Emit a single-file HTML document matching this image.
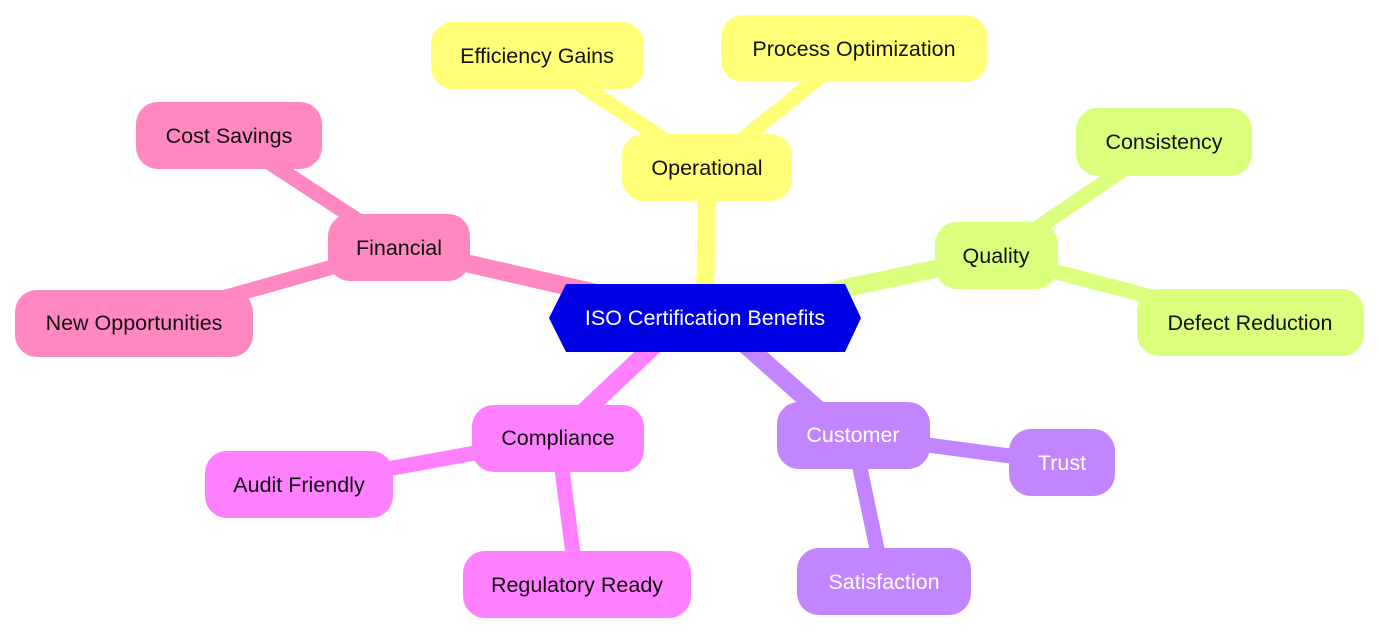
<!DOCTYPE html>
<html><head><meta charset="utf-8"><style>
html,body{margin:0;padding:0;background:#fff;}
svg{display:block;}
text{font-family:"Liberation Sans",sans-serif;font-size:21.5px;text-anchor:middle;dominant-baseline:central;}
</style></head><body>
<svg width="1379" height="634" viewBox="0 0 1379 634" xmlns="http://www.w3.org/2000/svg">
<g stroke-linecap="butt" fill="none">
<line x1="705" y1="300" x2="707" y2="190" stroke="#ffff78" stroke-width="18"/>
<line x1="705" y1="318" x2="400" y2="248" stroke="#ff88c0" stroke-width="18"/>
<line x1="705" y1="318" x2="996" y2="256" stroke="#d9ff7d" stroke-width="18"/>
<line x1="660" y1="340" x2="570" y2="425" stroke="#ff80ff" stroke-width="18"/>
<line x1="740" y1="340" x2="830" y2="420" stroke="#c384ff" stroke-width="18"/>
<line x1="707" y1="168" x2="537" y2="56" stroke="#ffff78" stroke-width="15"/>
<line x1="707" y1="168" x2="854" y2="49" stroke="#ffff78" stroke-width="15"/>
<line x1="400" y1="248" x2="229" y2="136" stroke="#ff88c0" stroke-width="15"/>
<line x1="400" y1="248" x2="134" y2="323" stroke="#ff88c0" stroke-width="15"/>
<line x1="996" y1="256" x2="1164" y2="142" stroke="#d9ff7d" stroke-width="15"/>
<line x1="996" y1="256" x2="1250" y2="323" stroke="#d9ff7d" stroke-width="15"/>
<line x1="558" y1="438" x2="299" y2="485" stroke="#ff80ff" stroke-width="15"/>
<line x1="558" y1="438" x2="577" y2="585" stroke="#ff80ff" stroke-width="15"/>
<line x1="853" y1="435" x2="1062" y2="463" stroke="#c384ff" stroke-width="15"/>
<line x1="853" y1="435" x2="884" y2="582" stroke="#c384ff" stroke-width="15"/>
</g>
<g>
<rect x="622" y="134" width="170" height="67" rx="22" fill="#ffff78"/>
<rect x="431" y="22" width="213" height="67" rx="22" fill="#ffff78"/>
<rect x="721" y="15" width="266" height="67" rx="22" fill="#ffff78"/>
<rect x="935" y="222" width="123" height="67" rx="22" fill="#d9ff7d"/>
<rect x="1076" y="108" width="176" height="68" rx="22" fill="#d9ff7d"/>
<rect x="1137" y="289" width="227" height="67" rx="22" fill="#d9ff7d"/>
<rect x="328" y="214" width="142" height="67" rx="22" fill="#ff88c0"/>
<rect x="136" y="102" width="186" height="67" rx="22" fill="#ff88c0"/>
<rect x="15" y="290" width="238" height="67" rx="22" fill="#ff88c0"/>
<rect x="472" y="405" width="172" height="67" rx="22" fill="#ff80ff"/>
<rect x="205" y="451" width="188" height="67" rx="22" fill="#ff80ff"/>
<rect x="463" y="551" width="228" height="67" rx="22" fill="#ff80ff"/>
<rect x="777" y="402" width="153" height="67" rx="22" fill="#c384ff"/>
<rect x="1009" y="429" width="106" height="67" rx="22" fill="#c384ff"/>
<rect x="797" y="548" width="174" height="67" rx="22" fill="#c384ff"/>
<polygon points="549,318 566,284 845,284 861,318 845,352 566,352" fill="#0000e6"/>
</g>
<g fill="#111">
<text x="707" y="168">Operational</text>
<text x="537" y="56">Efficiency Gains</text>
<text x="854" y="49">Process Optimization</text>
<text x="996" y="256">Quality</text>
<text x="1164" y="142">Consistency</text>
<text x="1250" y="323">Defect Reduction</text>
<text x="399" y="248">Financial</text>
<text x="229" y="136">Cost Savings</text>
<text x="134" y="323">New Opportunities</text>
<text x="558" y="438">Compliance</text>
<text x="299" y="485">Audit Friendly</text>
<text x="577" y="585">Regulatory Ready</text>
</g>
<g fill="#fff">
<text x="853" y="435">Customer</text>
<text x="1062" y="463">Trust</text>
<text x="884" y="582">Satisfaction</text>
<text x="705" y="318">ISO Certification Benefits</text>
</g>
</svg>
</body></html>
